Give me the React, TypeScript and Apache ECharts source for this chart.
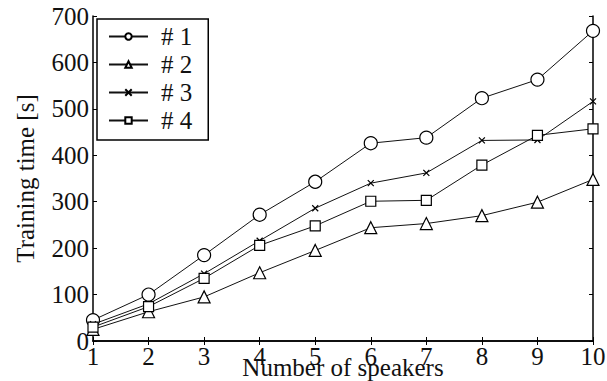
import React, { useEffect, useRef } from "react";
import * as echarts from "echarts";

const speakers = [1, 2, 3, 4, 5, 6, 7, 8, 9, 10];
const series1 = [45, 100, 185, 272, 343, 426, 438, 523, 563, 668];
const series2 = [25, 63, 95, 147, 195, 244, 253, 270, 299, 348];
const series3 = [36, 80, 145, 216, 286, 340, 362, 432, 433, 516];
const series4 = [30, 74, 135, 206, 248, 301, 303, 379, 443, 457];
const seriesNames = ["# 1", "# 2", "# 3", "# 4"];

const FONT = "Liberation Serif";
const FS = 25;

export default function App() {
  const ref = useRef<HTMLDivElement>(null);
  useEffect(() => {
    if (!ref.current) return;
    const chart = echarts.init(ref.current, undefined, { renderer: "svg" });
    const mk = (arr: number[]) => arr.map((v, i) => [speakers[i], v]);
    const common = {
      type: "line" as const,
      color: "#000",
      lineStyle: { color: "#111", width: 1 },
      itemStyle: { color: "#fff", borderColor: "#000", borderWidth: 1.2 },
    };
    chart.setOption({
      animation: false,
      backgroundColor: "#fff",
      textStyle: { fontFamily: FONT },
      grid: {
        left: 93,
        top: 16,
        right: 14,
        bottom: 40,
        show: false,
        containLabel: false,
        outerBoundsMode: "none",
      },
      legend: {
        show: true,
        orient: "vertical",
        left: 97,
        top: 19,
        padding: [5, 16, 7, 11],
        itemGap: 3,
        itemWidth: 39,
        itemHeight: 8,
        backgroundColor: "#fff",
        borderColor: "#000",
        borderWidth: 1.5,
        textStyle: { fontFamily: FONT, fontSize: FS, color: "#111", padding: [0, 0, 0, 8] },
        data: seriesNames,
      },
      xAxis: [
        {
          type: "value",
          min: 1,
          max: 10,
          interval: 1,
          name: "Number of speakers",
          nameLocation: "middle",
          nameGap: 14,
          nameMoveOverlap: false,
          nameTextStyle: { fontFamily: FONT, fontSize: FS, color: "#111" },
          axisLine: { show: true, lineStyle: { color: "#000", width: 1.5 } },
          axisTick: { show: true, inside: true, length: 4, lineStyle: { color: "#000" } },
          axisLabel: { fontFamily: FONT, fontSize: FS, color: "#111", margin: 3 },
          splitLine: { show: false },
        },
        {
          type: "value",
          position: "top",
          min: 1,
          max: 10,
          interval: 1,
          axisLine: { show: true, lineStyle: { color: "#000", width: 1.5 } },
          axisTick: { show: true, inside: true, length: 4, lineStyle: { color: "#000" } },
          axisLabel: { show: false },
          splitLine: { show: false },
        },
      ],
      yAxis: [
        {
          type: "value",
          min: 0,
          max: 700,
          interval: 100,
          name: "Training time [s]",
          nameLocation: "middle",
          nameGap: 55,
          nameTextStyle: { fontFamily: FONT, fontSize: FS, color: "#111" },
          axisLine: { show: true, lineStyle: { color: "#000", width: 1.5 } },
          axisTick: { show: true, inside: true, length: 4, lineStyle: { color: "#000" } },
          axisLabel: { fontFamily: FONT, fontSize: FS, color: "#111", margin: 4 },
          splitLine: { show: false },
        },
        {
          type: "value",
          position: "right",
          min: 0,
          max: 700,
          interval: 100,
          axisLine: { show: true, lineStyle: { color: "#000", width: 1.5 } },
          axisTick: { show: true, inside: true, length: 4, lineStyle: { color: "#000" } },
          axisLabel: { show: false },
          splitLine: { show: false },
        },
      ],
      series: [
        { ...common, name: seriesNames[0], data: mk(series1), symbol: "circle", symbolSize: 13 },
        { ...common, name: seriesNames[1], data: mk(series2), symbol: "triangle", symbolSize: 12 },
        {
          ...common,
          name: seriesNames[2],
          data: mk(series3),
          symbol: "path://M0,0L10,10M10,0L0,10",
          symbolSize: 6,
        },
        { ...common, name: seriesNames[3], data: mk(series4), symbol: "rect", symbolSize: 10 },
      ],
    });
    return () => chart.dispose();
  }, []);
  return <div ref={ref} style={{ width: 607, height: 381, position: "absolute", left: 0, top: 0 }} />;
}
